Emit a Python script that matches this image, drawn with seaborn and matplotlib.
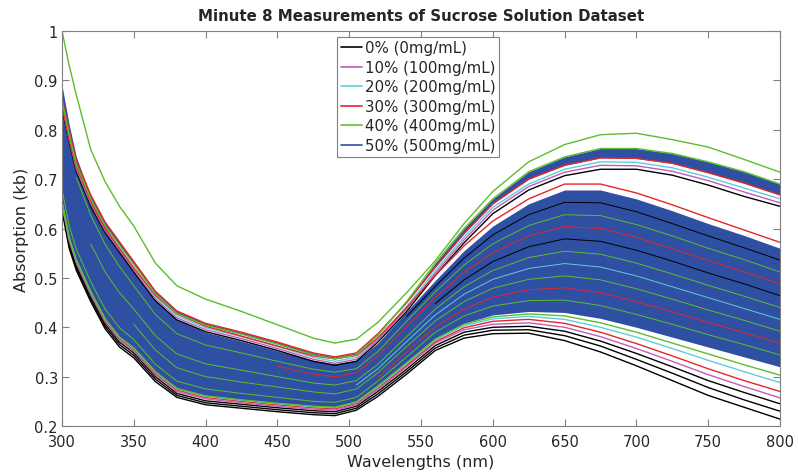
import numpy as np
import pandas as pd
import seaborn as sns
from matplotlib import pyplot as plt
from matplotlib.lines import Line2D
from matplotlib.ticker import FormatStrFormatter, MultipleLocator

# wavelength grid the curves were read on (nm)
wl = [300, 305, 310, 320, 330, 340, 350, 365, 380, 400, 425, 450, 475, 490,
      505, 520, 540, 560, 580, 600, 625, 650, 675, 700, 725, 750, 775, 800]

# single high 40% sample
green_outlier = [1.00, 0.93, 0.87, 0.76, 0.695, 0.645, 0.605, 0.53, 0.484, 0.457, 0.432, 0.405, 0.378, 0.368,
                 0.376, 0.41, 0.47, 0.535, 0.61, 0.675, 0.735, 0.77, 0.79, 0.793, 0.78, 0.765, 0.74, 0.714]

# upper cluster (peaks ~0.76)
uc_green = [0.86, 0.79, 0.73, 0.66, 0.606, 0.566, 0.527, 0.468, 0.428, 0.404, 0.386, 0.366, 0.344, 0.336,
            0.344, 0.384, 0.452, 0.53, 0.60, 0.66, 0.715, 0.745, 0.762, 0.762, 0.752, 0.735, 0.715, 0.69]
uc_red = [0.865, 0.797, 0.737, 0.668, 0.613, 0.573, 0.533, 0.473, 0.433, 0.408, 0.39, 0.37, 0.348, 0.34,
          0.348, 0.387, 0.45, 0.522, 0.59, 0.65, 0.70, 0.728, 0.743, 0.742, 0.732, 0.713, 0.692, 0.668]
uc_cyan = [0.855, 0.785, 0.725, 0.655, 0.6, 0.56, 0.52, 0.462, 0.423, 0.399, 0.381, 0.361, 0.339, 0.331,
           0.339, 0.378, 0.442, 0.515, 0.583, 0.643, 0.69, 0.72, 0.735, 0.734, 0.723, 0.704, 0.682, 0.66]
uc_pink = [0.85, 0.78, 0.72, 0.65, 0.596, 0.556, 0.516, 0.458, 0.419, 0.395, 0.377, 0.357, 0.335, 0.327,
           0.335, 0.374, 0.437, 0.51, 0.577, 0.637, 0.685, 0.714, 0.728, 0.727, 0.716, 0.697, 0.674, 0.652]
uc_black = [0.845, 0.775, 0.715, 0.645, 0.592, 0.552, 0.512, 0.454, 0.415, 0.391, 0.373, 0.353, 0.331, 0.323,
            0.331, 0.37, 0.432, 0.505, 0.571, 0.63, 0.678, 0.707, 0.72, 0.72, 0.708, 0.688, 0.665, 0.645]

# main band edges
mb_red = [0.85, 0.78, 0.725, 0.655, 0.60, 0.56, 0.52, 0.465, 0.427, 0.402, 0.382, 0.362, 0.342, 0.336,
          0.343, 0.378, 0.44, 0.505, 0.565, 0.615, 0.66, 0.69, 0.69, 0.672, 0.648, 0.622, 0.597, 0.572]
blue_top = [0.89, 0.81, 0.745, 0.665, 0.605, 0.558, 0.515, 0.455, 0.415, 0.39, 0.372, 0.352, 0.333, 0.326,
            0.333, 0.368, 0.432, 0.495, 0.555, 0.605, 0.65, 0.678, 0.678, 0.66, 0.636, 0.61, 0.586, 0.56]
blue_bot = [0.655, 0.582, 0.537, 0.473, 0.418, 0.381, 0.359, 0.311, 0.277, 0.262, 0.254, 0.247, 0.241, 0.239,
            0.25, 0.282, 0.33, 0.378, 0.408, 0.425, 0.432, 0.43, 0.418, 0.40, 0.38, 0.36, 0.34, 0.32]

# lowest samples
bot_k1 = [0.636, 0.56, 0.515, 0.452, 0.397, 0.36, 0.338, 0.29, 0.258, 0.243, 0.236, 0.229, 0.223, 0.221,
          0.232, 0.26, 0.305, 0.353, 0.378, 0.387, 0.388, 0.373, 0.35, 0.322, 0.292, 0.262, 0.238, 0.214]
bot_k2 = [0.64, 0.565, 0.52, 0.457, 0.402, 0.365, 0.343, 0.295, 0.262, 0.247, 0.24, 0.233, 0.227, 0.225,
          0.236, 0.265, 0.31, 0.358, 0.384, 0.394, 0.395, 0.383, 0.362, 0.335, 0.307, 0.278, 0.253, 0.23]
bot_k3 = [0.645, 0.57, 0.525, 0.462, 0.407, 0.37, 0.348, 0.30, 0.266, 0.251, 0.244, 0.237, 0.231, 0.229,
          0.24, 0.27, 0.315, 0.363, 0.39, 0.40, 0.402, 0.392, 0.372, 0.347, 0.32, 0.292, 0.268, 0.245]
bot_pink = [0.648, 0.575, 0.53, 0.466, 0.411, 0.374, 0.352, 0.304, 0.27, 0.255, 0.247, 0.24, 0.234, 0.232,
            0.243, 0.274, 0.32, 0.368, 0.395, 0.406, 0.409, 0.40, 0.381, 0.357, 0.331, 0.304, 0.28, 0.257]
bot_red = [0.651, 0.578, 0.533, 0.469, 0.414, 0.377, 0.355, 0.307, 0.273, 0.258, 0.25, 0.243, 0.237, 0.235,
           0.246, 0.277, 0.323, 0.371, 0.399, 0.412, 0.416, 0.408, 0.39, 0.367, 0.342, 0.316, 0.292, 0.27]
bot_cyan = [0.653, 0.58, 0.535, 0.471, 0.416, 0.379, 0.357, 0.309, 0.275, 0.26, 0.252, 0.245, 0.239, 0.237,
            0.248, 0.279, 0.326, 0.374, 0.403, 0.417, 0.422, 0.416, 0.4, 0.38, 0.357, 0.333, 0.31, 0.288]
bot_green = [0.654, 0.581, 0.536, 0.472, 0.417, 0.38, 0.358, 0.31, 0.276, 0.261, 0.253, 0.246, 0.24, 0.238,
             0.249, 0.281, 0.328, 0.376, 0.406, 0.421, 0.427, 0.423, 0.409, 0.39, 0.368, 0.346, 0.324, 0.303]

# streaks seen inside the blue mass
in_k1 = [0.867, 0.787, 0.724, 0.646, 0.586, 0.54, 0.499, 0.441, 0.401, 0.377, 0.36, 0.342, 0.324, 0.317,
         0.325, 0.359, 0.422, 0.483, 0.54, 0.587, 0.628, 0.653, 0.652, 0.634, 0.61, 0.585, 0.561, 0.536]
in_g1 = [0.843, 0.764, 0.703, 0.627, 0.568, 0.523, 0.484, 0.426, 0.387, 0.364, 0.348, 0.331, 0.315, 0.309,
         0.316, 0.351, 0.412, 0.472, 0.526, 0.569, 0.606, 0.628, 0.626, 0.608, 0.585, 0.56, 0.537, 0.512]
in_r1 = [0.82, 0.742, 0.683, 0.607, 0.549, 0.505, 0.468, 0.412, 0.374, 0.352, 0.337, 0.321, 0.305, 0.3,
         0.308, 0.342, 0.401, 0.46, 0.511, 0.551, 0.585, 0.604, 0.6, 0.582, 0.559, 0.535, 0.512, 0.488]
in_k2 = [0.796, 0.719, 0.662, 0.588, 0.53, 0.487, 0.453, 0.397, 0.36, 0.339, 0.325, 0.31, 0.296, 0.291,
         0.3, 0.334, 0.391, 0.448, 0.496, 0.533, 0.563, 0.579, 0.574, 0.556, 0.534, 0.51, 0.488, 0.464]
in_g2 = [0.773, 0.696, 0.641, 0.569, 0.512, 0.47, 0.437, 0.383, 0.346, 0.326, 0.313, 0.3, 0.287, 0.283,
         0.292, 0.325, 0.381, 0.437, 0.482, 0.515, 0.541, 0.554, 0.548, 0.53, 0.508, 0.485, 0.463, 0.44]
in_c1 = [0.749, 0.673, 0.62, 0.55, 0.493, 0.452, 0.421, 0.369, 0.332, 0.313, 0.301, 0.289, 0.278, 0.274,
         0.283, 0.316, 0.371, 0.425, 0.467, 0.497, 0.519, 0.529, 0.522, 0.504, 0.482, 0.46, 0.438, 0.416]
in_g3 = [0.725, 0.65, 0.599, 0.531, 0.474, 0.434, 0.406, 0.354, 0.318, 0.3, 0.289, 0.279, 0.269, 0.265,
         0.275, 0.308, 0.361, 0.413, 0.452, 0.479, 0.497, 0.504, 0.496, 0.478, 0.457, 0.435, 0.414, 0.392]
in_r2 = [0.702, 0.628, 0.579, 0.511, 0.455, 0.416, 0.39, 0.34, 0.305, 0.288, 0.278, 0.268, 0.259, 0.256,
         0.267, 0.299, 0.35, 0.401, 0.437, 0.461, 0.476, 0.48, 0.47, 0.452, 0.431, 0.41, 0.389, 0.368]
in_g4 = [0.679, 0.605, 0.558, 0.492, 0.437, 0.399, 0.375, 0.325, 0.291, 0.275, 0.266, 0.258, 0.25, 0.248,
         0.258, 0.291, 0.34, 0.39, 0.423, 0.443, 0.454, 0.455, 0.444, 0.426, 0.406, 0.385, 0.365, 0.344]

groups = ["0% (0mg/mL)", "10% (100mg/mL)", "20% (200mg/mL)",
          "30% (300mg/mL)", "40% (400mg/mL)", "50% (500mg/mL)"]
colors = ["#000000", "#c05cbe", "#5fcdd9", "#e4262b", "#5cbd2d", "#2f4fa2"]
K, P, C, R, G, B = colors

sns.set_style("white")
plt.rcParams["font.family"] = ["DejaVu Sans"]

fig = plt.figure(figsize=(7.98, 4.77), dpi=100)
ax = fig.add_axes([0.0777, 0.1048, 0.8997, 0.8281])


def draw(vals, color, lw=1.0, start=0):
    sns.lineplot(x=wl[start:], y=vals[start:], color=color, lw=lw, ax=ax,
                 estimator=None, sort=False)


# bottom edge of the bundle
for vals, c in [(bot_k1, K), (bot_k2, K), (bot_k3, K), (bot_pink, P),
                (bot_red, R), (bot_cyan, C), (bot_green, G)]:
    draw(vals, c)

# upper cluster lower lines
for vals, c in [(uc_black, K), (uc_pink, P), (uc_cyan, C)]:
    draw(vals, c)

# dense 50% mass
ax.fill_between(wl, blue_bot, blue_top, color=B, lw=0)
ax.fill_between(wl, uc_red, uc_green, color=B, lw=0)

# streaks only show where they come out of the blue, so start them there
for vals, c, s in [(in_g4, G, 0), (in_r2, R, 15), (in_g3, G, 6), (in_c1, C, 14),
                   (in_g2, G, 3), (in_k2, K, 17), (in_r1, R, 11), (in_g1, G, 2),
                   (in_k1, K, 16)]:
    draw(vals, c, lw=0.7, start=s)

draw(mb_red, R)
draw(uc_red, R)
draw(uc_green, G)
draw(green_outlier, G)

ax.set_xlim(300, 800)
ax.set_ylim(0.2, 1.0)
ax.xaxis.set_major_locator(MultipleLocator(50))
ax.yaxis.set_major_locator(MultipleLocator(0.1))
ax.yaxis.set_major_formatter(FormatStrFormatter("%g"))
ax.tick_params(direction="in", length=5, width=0.8, color="#808080", labelsize=10.5,
               labelcolor="#262626", top=True, right=True, bottom=True, left=True, pad=3)
ax.tick_params(axis="x", pad=6)
for s in ax.spines.values():
    s.set_color("#808080")
    s.set_linewidth(0.8)

ax.set_xlabel("Wavelengths (nm)", fontsize=11.5, color="#262626", labelpad=3)
ax.set_ylabel("Absorption (kb)", fontsize=11.5, color="#262626", labelpad=4)
ax.set_title("Minute 8 Measurements of Sucrose Solution Dataset", fontsize=10.8,
             fontweight="bold", pad=8)

handles = [Line2D([0], [0], color=c, lw=1.2) for c in colors]
leg = ax.legend(handles, groups, loc="upper left", bbox_to_anchor=(0.383, 0.986),
                fontsize=10.8, handlelength=1.4, handletextpad=0.2, labelspacing=0.3,
                borderpad=0.25, borderaxespad=0, fancybox=False, framealpha=1)
leg.get_frame().set_edgecolor("#808080")
leg.get_frame().set_linewidth(0.8)

fig.savefig("out.png", dpi=100)
